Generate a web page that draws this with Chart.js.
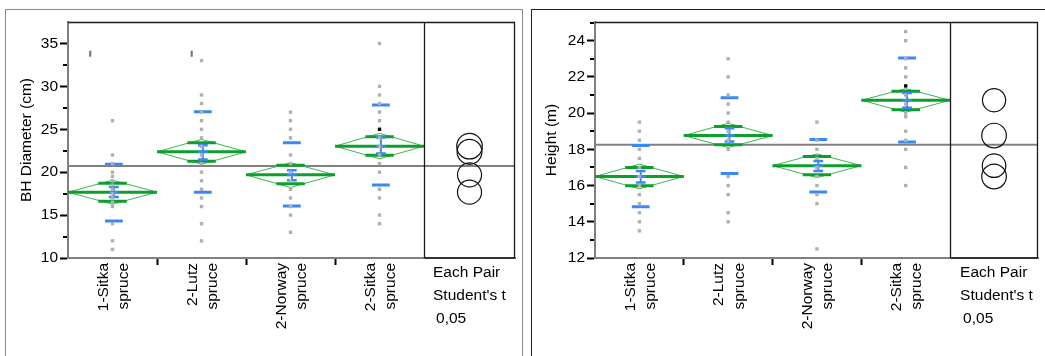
<!DOCTYPE html>
<html><head><meta charset="utf-8">
<script src="https://cdn.jsdelivr.net/npm/chart.js@4.4.1/dist/chart.umd.min.js"></script>
<style>
body{margin:0;background:#fff;width:1045px;height:356px;overflow:hidden;position:relative}
#frameL{position:absolute;left:5px;top:9px;width:518px;height:400px;border:1.5px solid #8a8a8a;box-sizing:border-box}
#frameR{position:absolute;left:531px;top:9px;width:530px;height:400px;border:1.5px solid #222;box-sizing:border-box}
canvas{position:absolute;top:0}
#cL{left:0}#cR{left:527px}
</style></head>
<body>
<div id="frameL"></div><div id="frameR"></div>
<canvas id="cL" width="523" height="356"></canvas>
<canvas id="cR" width="518" height="356"></canvas>
<script>
// ---------- shared ----------
const categoryLabels = [['1-Sitka','spruce'],['2-Lutz','spruce'],['2-Norway','spruce'],['2-Sitka','spruce']];
const compareText = ['Each Pair', "Student's t", '0,05'];

// ---------- panel 1: BH Diameter ----------
const dbhTitle = 'BH Diameter (cm)';
const dbhTicks = [10,15,20,25,30,35];
const dbhMinorTicks = [12.5,17.5,22.5,27.5,32.5];
const dbhPoints = [
  [26,22,21,20,19.5,19,18.5,18,17.5,17,16.5,16,14,12,11],
  [33,29,28,27,26,25,24,23,22,21,20,19,18,17,16,14,12],
  [27,26,25,24,22,21,20,19,18,17,16,15,13],
  [35,30,29,28,27,26,24,23,22,21,20,18,17,15,14]
];
const dbhHighlighted = [null,null,null,25];
const dbhMarkValues = [33.8,33.8,null,null];
const dbhMarkJitter = [-0.25,-0.11,0,0];
const dbhMean   = [17.67,22.37,19.69,23.03];
const dbhCiLow  = [16.27,20.93,18.21,21.56];
const dbhCiHigh = [19.07,23.82,21.09,24.52];
const dbhOvLow  = [16.62,21.28,18.64,21.98];
const dbhOvHigh = [18.72,23.42,20.82,24.12];
const dbhSdLow  = [14.32,17.67,16.07,18.52];
const dbhSdHigh = [20.93,27.04,23.42,27.82];
const dbhSeLow  = [17.12,21.48,19.07,22.18];
const dbhSeHigh = [18.28,23.15,20.23,24.04];
const dbhGrandMean = 20.73;

// ---------- panel 2: Height ----------
const hTitle = 'Height (m)';
const hTicks = [12,14,16,18,20,22,24];
const hMinorTicks = [13,15,17,19,21,23,25];
const hPoints = [
  [19.5,19,18.5,18,17.5,17,16.5,16,15.5,15,14.5,14,13.5],
  [23,22,21,20.5,20,19.5,19,18.5,18,16.5,16,15.5,14.5,14],
  [19.5,18.5,18,17.5,17,16.5,16,15.5,15,12.5],
  [24.5,24,23,22.5,22,21,20.5,20,19.8,19,18.5,18,17,16]
];
const hHighlighted = [null,null,null,21.5];
const hMarkValues = [null,null,null,null];
const hMarkJitter = [0,0,0,0];
const hMean   = [16.5,18.76,17.1,20.71];
const hCiLow  = [15.82,18.1,16.44,20.05];
const hCiHigh = [17.18,19.44,17.75,21.35];
const hOvLow  = [15.99,18.25,16.59,20.19];
const hOvHigh = [17.0,19.26,17.6,21.2];
const hSdLow  = [14.83,16.66,15.65,18.41];
const hSdHigh = [18.21,20.85,18.54,23.04];
const hSeLow  = [16.17,18.43,16.81,20.3];
const hSeHigh = [16.81,19.17,17.36,21.11];
const hGrandMean = 18.25;

// ---------- styling ----------
const FONT = "'Liberation Sans', Arial, sans-serif";
const FS = 15.5;
const GREEN_THIN = '#3cb54e';
const GREEN_THICK = '#0e9e2e';
const BLUE = '#3a88f5';
const GRAY_PT = '#b0b0b0';
const AXIS_GRAY = '#808080';

Chart.defaults.font.family = FONT;
Chart.defaults.font.size = FS;
Chart.defaults.color = '#000';

function seg(points, color, width, order){
  return {data: points, showLine: true, borderColor: color, borderWidth: width,
          pointRadius: 0, spanGaps: false, fill: false, order: order, borderCapStyle: 'butt'};
}

function buildChart(id, d){
  const G = d.mean.length;
  const ds = [];
  ds.push(seg([{x:0,y:d.grand},{x:d.xMax,y:d.grand}], AXIS_GRAY, 2, 9));
  const bx = 0.015, sdHalf = 0.1, capHalf = 0.055, ovHalf = 0.16;
  for (let g = 0; g < G; g++){
    const c = g + 0.5;
    ds.push(seg([{x:g,y:d.mean[g]},{x:c,y:d.ciHigh[g]},{x:g+1,y:d.mean[g]},{x:c,y:d.ciLow[g]},{x:g,y:d.mean[g]}], GREEN_THIN, 1, 8));
    ds.push(seg([{x:g,y:d.mean[g]},{x:g+1,y:d.mean[g]}], GREEN_THICK, 3, 7));
    ds.push(seg([{x:c-ovHalf,y:d.ovHigh[g]},{x:c+ovHalf,y:d.ovHigh[g]},{x:c,y:null},{x:c-ovHalf,y:d.ovLow[g]},{x:c+ovHalf,y:d.ovLow[g]}], GREEN_THICK, 3, 7));
    const b = c + bx;
    ds.push(seg([{x:b-sdHalf,y:d.sdHigh[g]},{x:b+sdHalf,y:d.sdHigh[g]},{x:b,y:null},{x:b-sdHalf,y:d.sdLow[g]},{x:b+sdHalf,y:d.sdLow[g]}], BLUE, 3, 6));
    ds.push(seg([{x:b-capHalf,y:d.seHigh[g]},{x:b+capHalf,y:d.seHigh[g]},{x:b,y:null},{x:b-capHalf,y:d.seLow[g]},{x:b+capHalf,y:d.seLow[g]},{x:b,y:null},{x:b-capHalf,y:d.mean[g]},{x:b+capHalf,y:d.mean[g]}], BLUE, 2.5, 6));
    ds.push(seg([{x:b,y:d.seLow[g]},{x:b,y:d.seHigh[g]}], BLUE, 2, 6));
  }
  // raw points
  const pts = [];
  d.points.forEach((arr,g)=>arr.forEach(v=>pts.push({x:g+0.5,y:v})));
  ds.push({data: pts, pointStyle:'rect', pointRadius:2.4, backgroundColor:GRAY_PT, borderWidth:0, order:3});
  const hi = [];
  d.highlighted.forEach((v,g)=>{ if (v!==null) hi.push({x:g+0.5,y:v}); });
  ds.push({data: hi, pointStyle:'rect', pointRadius:2.4, backgroundColor:'#000', borderWidth:0, order:2});
  const mk = [];
  d.markValues.forEach((v,g)=>{ if (v!==null) mk.push({x:g+0.5+d.markJitter[g],y:v}); });
  ds.push({data: mk, pointStyle:'line', rotation:90, pointRadius:3, borderColor:'#6e6e6e', borderWidth:2, order:2});
  // comparison circles
  const cx = (4 + d.xMax)/2;
  ds.push({data: d.mean.map(m=>({x:cx,y:m})), pointStyle:'circle', backgroundColor:'rgba(0,0,0,0)',
    borderColor:'#111', borderWidth:1.2, order:1,
    pointRadius: ctx => {
      const ys = ctx.chart.scales.y; const i = ctx.dataIndex;
      if (!ys || ys.getPixelForValue === undefined) return 12;
      return Math.abs(ys.getPixelForValue(d.mean[i]) - ys.getPixelForValue(d.ciHigh[i]));
    }});

  const decor = {
    id: 'decor',
    afterDatasetsDraw(chart){
      const {ctx, chartArea:a, scales:{x, y}} = chart;
      ctx.save();
      // minor ticks
      ctx.strokeStyle = '#000'; ctx.lineWidth = 2;
      d.minorTicks.forEach(v=>{
        const py = Math.round(y.getPixelForValue(v));
        ctx.beginPath(); ctx.moveTo(a.left-5, py); ctx.lineTo(a.left-1, py); ctx.stroke();
      });
      // frame
      ctx.strokeStyle = '#1a1a1a'; ctx.lineWidth = 1.3;
      const xd = Math.round(x.getPixelForValue(4)) + 0.5;
      ctx.beginPath();
      ctx.moveTo(a.left, a.top+0.5); ctx.lineTo(a.right-0.5, a.top+0.5); ctx.lineTo(a.right-0.5, a.bottom);
      ctx.lineTo(xd, a.bottom); ctx.moveTo(xd, a.top); ctx.lineTo(xd, a.bottom);
      ctx.stroke();
      // comparison-circles caption
      ctx.fillStyle = '#000'; ctx.font = FS + 'px ' + FONT; ctx.textBaseline = 'middle'; ctx.textAlign = 'left';
      const tx = x.getPixelForValue(4) + d.textDx;
      ctx.fillText(compareText[0], tx, a.bottom + 15);
      ctx.fillText(compareText[1], tx, a.bottom + 37.5);
      ctx.fillText(compareText[2], tx + 3, a.bottom + 60.5);
      ctx.restore();
    }
  };

  return new Chart(document.getElementById(id), {
    type: 'scatter',
    data: {datasets: ds},
    plugins: [decor],
    options: {
      responsive: false, maintainAspectRatio: false, animation: false, events: [],
      layout: {padding: {left:0, top:22, right:d.padRight, bottom:0}},
      plugins: {legend:{display:false}, tooltip:{enabled:false}},
      scales: {
        x: {
          type:'linear', min:0, max:d.xMax,
          afterBuildTicks: s => { s.ticks = categoryLabels.map((_,i)=>({value:i+0.5})); },
          afterFit: s => { s.height = 98; s.paddingLeft = 0; s.paddingRight = 0; },
          ticks: {autoSkip:false, minRotation:90, maxRotation:90, padding:-2, labelOffset:-9,
                  callback:(v,i)=>categoryLabels[i], font:{size:FS, lineHeight:1.3}, color:'#000'},
          grid: {offset:true, drawOnChartArea:false, drawTicks:true, tickLength:7, tickWidth:2,
                 tickColor: ctx => (ctx.type==='tick' && ctx.index>0) ? '#000' : 'rgba(0,0,0,0)'},
          border: {display:true, color:AXIS_GRAY, width:2}
        },
        y: {
          type:'linear', min:d.yMin, max:d.yMax,
          afterBuildTicks: s => { s.ticks = d.ticks.map(v=>({value:v})); },
          afterFit: s => { s.width = 68; s.paddingTop = 0; s.paddingBottom = 0; },
          ticks: {padding:2, color:'#000', font:{size:FS}},
          grid: {drawOnChartArea:false, drawTicks:true, tickLength:8, tickWidth:2, tickColor:'#000'},
          border: {display:true, color:AXIS_GRAY, width:2},
          title: {display:true, text:d.title, color:'#000', font:{size:FS}, padding:{top:d.titlePad, bottom:0}}
        }
      }
    }
  });
}

buildChart('cL', {
  title: dbhTitle, ticks: dbhTicks, minorTicks: dbhMinorTicks, yMin: 10, yMax: 37.5, xMax: 5.022,
  points: dbhPoints, highlighted: dbhHighlighted, markValues: dbhMarkValues, markJitter: dbhMarkJitter,
  mean: dbhMean, ciLow: dbhCiLow, ciHigh: dbhCiHigh, ovLow: dbhOvLow, ovHigh: dbhOvHigh,
  sdLow: dbhSdLow, sdHigh: dbhSdHigh, seLow: dbhSeLow, seHigh: dbhSeHigh, grand: dbhGrandMean,
  padRight: 8, titlePad: 17, textDx: 9
});
buildChart('cR', {
  title: hTitle, ticks: hTicks, minorTicks: hMinorTicks, yMin: 12, yMax: 25.03, xMax: 4.99,
  points: hPoints, highlighted: hHighlighted, markValues: hMarkValues, markJitter: hMarkJitter,
  mean: hMean, ciLow: hCiLow, ciHigh: hCiHigh, ovLow: hOvLow, ovHigh: hOvHigh,
  sdLow: hSdLow, sdHigh: hSdHigh, seLow: hSeLow, seHigh: hSeHigh, grand: hGrandMean,
  padRight: 7, titlePad: 15.5, textDx: 10
});
</script>
</body></html>
